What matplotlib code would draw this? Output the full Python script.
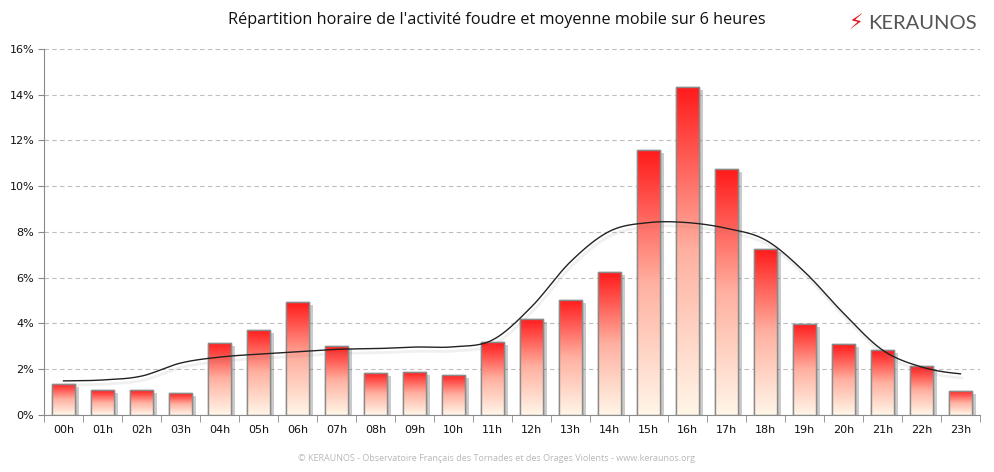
import numpy as np
import matplotlib
matplotlib.use("Agg")
import matplotlib.pyplot as plt
import matplotlib.patheffects as pe
from matplotlib.ticker import FuncFormatter, MultipleLocator
from matplotlib.colors import LinearSegmentedColormap

hours = [f"{h:02d}h" for h in range(24)]
activite = [1.36, 1.09, 1.09, 0.96, 3.15, 3.72, 4.94, 3.02, 1.84, 1.88, 1.75, 3.19,
            4.20, 5.03, 6.25, 11.58, 14.34, 10.75, 7.26, 3.98, 3.10, 2.84, 2.14, 1.05]
moyenne = [1.49, 1.53, 1.70, 2.27, 2.53, 2.66, 2.77, 2.87, 2.90, 2.97, 2.98, 3.28,
           4.73, 6.70, 8.03, 8.41, 8.41, 8.16, 7.65, 6.26, 4.45, 2.84, 2.10, 1.80]

title = "Répartition horaire de l'activité foudre et moyenne mobile sur 6 heures"
footer = "© KERAUNOS - Observatoire Français des Tornades et des Orages Violents - www.keraunos.org"


def smooth(y, n=20):
    # catmull-rom style smoothing, like the spreadsheet "smoothed line"
    y = np.asarray(y, float)
    p = np.concatenate([[y[0]], y, [y[-1]]])
    xs, ys = [], []
    t = np.linspace(0, 1, n, endpoint=False)
    for i in range(len(y) - 1):
        p0, p1, p2, p3 = p[i], p[i + 1], p[i + 2], p[i + 3]
        v = 0.5 * ((2 * p1) + (-p0 + p2) * t + (2 * p0 - 5 * p1 + 4 * p2 - p3) * t ** 2
                   + (-p0 + 3 * p1 - 3 * p2 + p3) * t ** 3)
        xs.extend(i + t)
        ys.extend(v)
    xs.append(len(y) - 1)
    ys.append(y[-1])
    return np.array(xs), np.array(ys)


fig = plt.figure(figsize=(9.94, 4.72), dpi=100)
ax = fig.add_axes([0.0443, 0.1208, 0.9416, 0.7754])

x = np.arange(len(hours))
bars = ax.bar(x, activite, width=0.6, facecolor="white", edgecolor="#8a8a8a",
              linewidth=1.0, zorder=2,
              path_effects=[pe.SimplePatchShadow(offset=(3, -2), shadow_rgbFace="#555555", alpha=0.3),
                            pe.Normal()])

cmap = LinearSegmentedColormap.from_list("fire", ["#fff6e8", "#ffb0a0", "#ff1a1a"])
grad = np.linspace(0, 1, 256).reshape(-1, 1)
for b in bars:
    x0, y0 = b.get_x(), b.get_y()
    im = ax.imshow(grad, cmap=cmap, origin="lower", aspect="auto", zorder=2.5,
                   extent=[x0, x0 + b.get_width(), y0, y0 + b.get_height()])
    im.set_clip_path(b)
ax.bar(x, activite, width=0.6, facecolor="none", edgecolor="#8a8a8a", linewidth=1.0, zorder=3)

sx, sy = smooth(moyenne)
ax.plot(sx, sy, color="#222222", linewidth=1.0, zorder=4,
        path_effects=[pe.SimpleLineShadow(offset=(1, -3), shadow_color="#888888", alpha=0.12, linewidth=2),
                      pe.Normal()])

ax.set_xlim(-0.5, 23.5)
ax.set_ylim(0, 16)
ax.set_aspect("auto")
ax.yaxis.set_major_locator(MultipleLocator(2))
ax.yaxis.set_major_formatter(FuncFormatter(lambda v, _: f"{v:.0f}%"))
ax.set_xticks(x)
ax.set_xticklabels(hours)
ax.set_xticks(np.arange(-0.5, 24, 1), minor=True)
ax.tick_params(axis="x", which="major", length=0, pad=7, labelsize=8, labelcolor="#111111")
ax.tick_params(axis="x", which="minor", length=5, color="#8a8a8a", direction="out")
ax.tick_params(axis="y", length=4, color="#8a8a8a", labelsize=8, labelcolor="#111111", pad=3)
ax.grid(axis="y", linestyle=(0, (4, 3)), color="#bdbdbd", linewidth=0.8, zorder=0)
ax.set_axisbelow(True)
for s in ["top", "right"]:
    ax.spines[s].set_visible(False)
for s in ["left", "bottom"]:
    ax.spines[s].set_color("#8a8a8a")

fig.text(0.5, 0.957, title, ha="center", va="center", fontsize=11.7, family="Open Sans", color="#111111")
fig.text(0.5, 0.029, footer, ha="center", va="center", fontsize=6.5, family="Open Sans", color="#b8b8b8")
fig.text(0.861, 0.951, "⚡", ha="center", va="center", fontsize=15, color="#e0191f", family="DejaVu Sans")
fig.text(0.873, 0.951, "KERAUNOS", ha="left", va="center", fontsize=14.5, color="#555555", family="Lato")

fig.savefig("out.png", dpi=100)
